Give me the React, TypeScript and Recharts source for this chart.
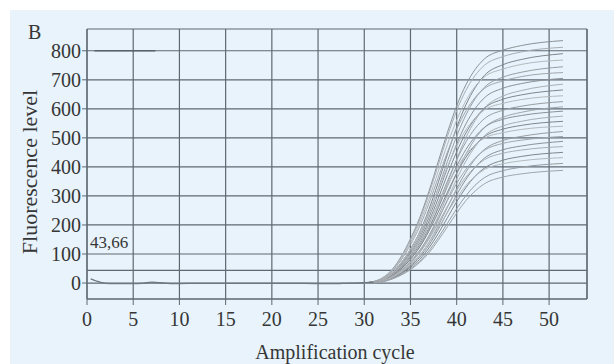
import { CartesianGrid, Line, LineChart, ReferenceLine, XAxis, YAxis } from "recharts";

// qPCR amplification plot, panel B

const FONT = "'Liberation Serif', 'DejaVu Serif', serif";
const GRID = "#5f6973";
const TEXT = "#363636";

const xTicks = [0, 5, 10, 15, 20, 25, 30, 35, 40, 45, 50];
const yTicks = [0, 100, 200, 300, 400, 500, 600, 700, 800];
const minorXTicks = [
  1, 2, 3, 4, 6, 7, 8, 9, 11, 12, 13, 14, 16, 17, 18, 19, 21, 22, 23, 24, 26, 27, 28, 29,
  31, 32, 33, 34, 36, 37, 38, 39, 41, 42, 43, 44, 46, 47, 48, 49, 51, 52, 53,
];
const minorYTicks = [50, 150, 250, 350, 450, 550, 650, 750, 850];

const threshold = 43.66;

// shared flat baseline of all wells before amplification
const baselineCycles = [0.4, 1, 1.5, 2, 3, 4, 5, 6, 7, 8, 9, 10, 12, 15, 18, 20, 22, 25, 27, 28, 29, 30, 31];
const baselineValues = [14, 7, 2, -1, -2, -2, -2, -1, 3, 1, -2, -2, -1, -1, -1, -1, -1, -2, -2, -1, 0, 1, 2];

// short dark segment at the 800 level
const markCycles = [0.8, 7.4];
const markValues = [800, 800];

// amplification curves, sampled at these cycles
const curveCycles = [30, 31, 33, 35, 36, 37, 38, 39, 40, 41, 42, 43, 45, 47, 51.5];
const curves: number[][] = [
  [1, 5, 46, 152, 225, 316, 418, 519, 610, 683, 736, 772, 802, 818, 835],
  [1, 5, 45, 148, 218, 307, 406, 505, 594, 664, 715, 750, 780, 796, 812],
  [1, 4, 36, 117, 176, 254, 346, 444, 536, 614, 673, 715, 752, 770, 790],
  [1, 4, 42, 140, 207, 290, 384, 478, 561, 628, 677, 710, 737, 753, 768],
  [1, 4, 34, 110, 166, 239, 326, 419, 506, 579, 635, 674, 709, 726, 745],
  [1, 4, 40, 132, 195, 274, 363, 451, 530, 593, 639, 670, 696, 711, 725],
  [1, 4, 32, 104, 157, 226, 309, 396, 479, 548, 601, 638, 671, 687, 705],
  [1, 3, 24, 82, 125, 184, 259, 343, 426, 501, 560, 603, 644, 663, 685],
  [1, 3, 30, 98, 148, 213, 291, 374, 452, 517, 567, 602, 633, 648, 665],
  [1, 4, 35, 117, 174, 244, 323, 401, 471, 528, 568, 596, 619, 632, 645],
  [1, 3, 28, 93, 139, 201, 274, 351, 424, 486, 533, 566, 595, 609, 625],
  [1, 2, 21, 72, 110, 163, 229, 304, 378, 444, 497, 535, 571, 588, 607],
  [1, 3, 27, 88, 132, 190, 259, 333, 402, 460, 504, 536, 564, 577, 592],
  [1, 2, 20, 68, 105, 155, 217, 288, 358, 420, 470, 507, 541, 557, 575],
  [1, 3, 25, 82, 124, 179, 244, 313, 378, 433, 475, 504, 530, 543, 557],
  [1, 3, 30, 98, 145, 204, 270, 336, 395, 442, 476, 499, 518, 529, 540],
  [1, 2, 18, 62, 95, 140, 197, 261, 325, 382, 427, 460, 491, 505, 522],
  [1, 2, 23, 75, 113, 162, 221, 284, 343, 392, 430, 457, 481, 492, 505],
  [1, 2, 17, 58, 89, 131, 184, 244, 304, 357, 399, 430, 459, 472, 488],
  [1, 2, 21, 70, 105, 151, 206, 264, 319, 365, 400, 425, 447, 458, 470],
  [1, 2, 16, 54, 82, 121, 170, 225, 280, 329, 368, 396, 423, 436, 450],
  [1, 2, 19, 64, 96, 139, 189, 243, 293, 336, 368, 391, 411, 421, 432],
  [1, 1, 14, 49, 75, 111, 156, 206, 256, 301, 337, 363, 387, 399, 412],
  [1, 1, 14, 46, 71, 104, 147, 194, 241, 284, 317, 342, 365, 376, 388],
];

const curveColors = ["#8b9196", "#a9aeb3", "#7f868c", "#b4b9bd", "#979da2", "#a0a6ab"];

const toPoints = (xs: number[], ys: number[]) => xs.map((cycle, i) => ({ cycle, value: ys[i] }));

const baseline = toPoints(baselineCycles, baselineValues);
const mark = toPoints(markCycles, markValues);
const series = curves.map((values) => toPoints(curveCycles, values));

const X_MAX = 54.1;

type TickProps = { x?: number; y?: number; payload?: { value: number } };

function CycleTick({ x = 0, y = 0, payload }: TickProps) {
  return (
    <text x={x} y={y} dy={14} textAnchor="middle" fontFamily={FONT} fontSize={20} fill={TEXT}>
      {payload?.value}
    </text>
  );
}

function LevelTick({ x = 0, y = 0, payload }: TickProps) {
  return (
    <text x={x} y={y} dy={7} textAnchor="end" fontFamily={FONT} fontSize={20} fill={TEXT}>
      {payload?.value}
    </text>
  );
}

export default function App() {
  return (
    <div style={{ position: "absolute", left: 0, top: 0, width: 614, height: 364, background: "#ffffff" }}>
      <div style={{ position: "absolute", left: 10, top: 10, width: 604, height: 354, background: "#e8f3fb" }} />
      <div style={{ position: "absolute", left: 0, top: 0 }}>
        <LineChart width={614} height={364} margin={{ top: 29, right: 27, bottom: 25, left: 27 }}>
          <CartesianGrid stroke={GRID} strokeWidth={1.2} />
          <XAxis
            xAxisId="minor"
            type="number"
            dataKey="cycle"
            domain={[0, X_MAX]}
            ticks={minorXTicks}
            allowDataOverflow
            mirror
            height={0}
            tick={false}
            axisLine={false}
            tickLine={{ stroke: "#a5adb4" }}
            tickSize={5}
          />
          <XAxis
            type="number"
            dataKey="cycle"
            domain={[0, X_MAX]}
            ticks={xTicks}
            allowDataOverflow
            height={40}
            tick={<CycleTick />}
            tickSize={6}
            tickMargin={7}
            axisLine={{ stroke: GRID, strokeWidth: 1.2 }}
            tickLine={{ stroke: GRID }}
          />
          <YAxis
            yAxisId="minor"
            type="number"
            domain={[-55, 875]}
            ticks={minorYTicks}
            allowDataOverflow
            mirror
            width={0}
            tick={false}
            axisLine={false}
            tickLine={{ stroke: "#8d969e" }}
            tickSize={3}
          />
          <YAxis
            type="number"
            domain={[-55, 875]}
            ticks={yTicks}
            allowDataOverflow
            width={60}
            tick={<LevelTick />}
            tickSize={5}
            tickMargin={1}
            axisLine={{ stroke: GRID, strokeWidth: 1.2 }}
            tickLine={{ stroke: GRID }}
          />
          <ReferenceLine y={threshold} stroke={GRID} strokeWidth={1.2} />
          <ReferenceLine x={X_MAX} stroke={GRID} strokeWidth={1.2} />
          <Line
            data={mark}
            dataKey="value"
            stroke="#5a636b"
            strokeWidth={1.4}
            dot={false}
            isAnimationActive={false}
          />
          {series.map((points, i) => (
            <Line
              key={i}
              data={points}
              dataKey="value"
              type="monotone"
              stroke={curveColors[i % curveColors.length]}
              strokeWidth={1}
              dot={false}
              isAnimationActive={false}
            />
          ))}
          <Line
            data={baseline}
            dataKey="value"
            type="monotone"
            stroke="#6f777e"
            strokeWidth={1.3}
            dot={false}
            isAnimationActive={false}
          />
        </LineChart>
      </div>
      <svg
        width={614}
        height={364}
        style={{ position: "absolute", left: 0, top: 0, pointerEvents: "none" }}
        fontFamily={FONT}
        fill={TEXT}
      >
        <text x={28} y={39} fontSize={20}>
          B
        </text>
        <text x={90} y={248} fontSize={17}>
          43,66
        </text>
        <text x={37} y={172} fontSize={22} textAnchor="middle" transform="rotate(-90 37 172)">
          Fluorescence level
        </text>
        <text x={335} y={359} fontSize={20} textAnchor="middle">
          Amplification cycle
        </text>
      </svg>
    </div>
  );
}
